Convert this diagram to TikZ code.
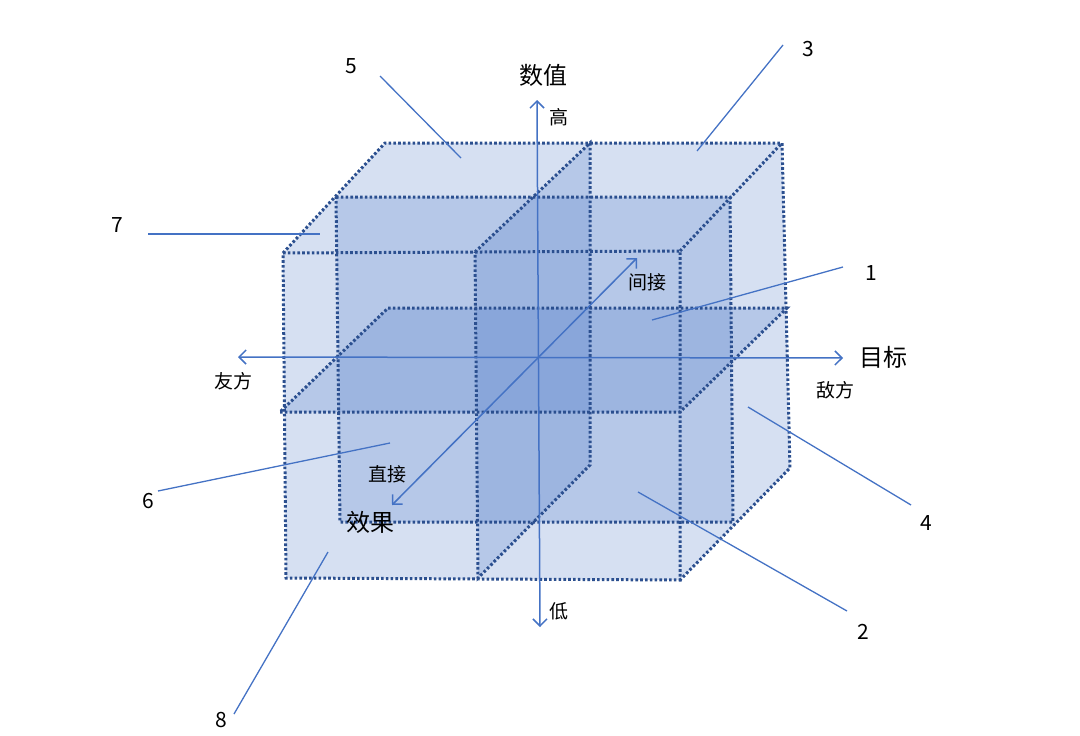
\documentclass[tikz,border=0pt]{standalone}
\usepackage{fontspec}
\setmainfont{Noto Sans CJK SC}
\usetikzlibrary{arrows.meta}
\definecolor{axisblue}{HTML}{4472C4}
\definecolor{edgeblue}{HTML}{2B4F8F}
\definecolor{fillblue}{HTML}{4472C4}
\begin{document}
\begin{tikzpicture}[x=1pt,y=-1pt,
  layerfill/.style={fill=fillblue,fill opacity=0.22,draw=none},
  edgeline/.style={draw=edgeblue,line width=3pt,dash pattern=on 2.6pt off 2.2pt},
  axisline/.style={draw=axisblue,line width=1.5pt,{Straight Barb[length=7pt,width=14pt]}-{Straight Barb[length=7pt,width=14pt]}},
  leader/.style={draw=axisblue,line width=1.3pt},
  bigtext/.style={font=\fontsize{24}{28}\selectfont,inner sep=0pt,text=black},
  smalltext/.style={font=\fontsize{19}{22}\selectfont,inner sep=0pt,text=black},
  numtext/.style={font=\fontsize{21}{24}\selectfont,inner sep=0pt,text=black}]
\useasboundingbox (0,0) rectangle (1080,736);
% outer box corners
\coordinate (FTL) at (283,253);
\coordinate (FTR) at (680,251);
\coordinate (FBR) at (680,580);
\coordinate (FBL) at (286,578);
\coordinate (BTL) at (385,143);
\coordinate (BTR) at (782,143);
\coordinate (BBR) at (790,468);
% middle depth plane
\coordinate (MTL) at (336,197);
\coordinate (MTR) at (730,197);
\coordinate (MBR) at (733,522);
\coordinate (MBL) at (340,522);
% horizontal plane
\coordinate (HFL) at (280,412);
\coordinate (HFR) at (680,412);
\coordinate (HBR) at (787,308);
\coordinate (HBL) at (388,308);
% vertical plane
\coordinate (VFT) at (475,252);
\coordinate (VBT) at (590,143);
\coordinate (VBB) at (590,465);
\coordinate (VFB) at (478,578);
% fills
\fill[layerfill] (FTL) -- (BTL) -- (BTR) -- (BBR) -- (FBR) -- (FBL) -- cycle;
\fill[layerfill] (MTL) -- (MTR) -- (MBR) -- (MBL) -- cycle;
\fill[layerfill] (HFL) -- (HFR) -- (HBR) -- (HBL) -- cycle;
\fill[layerfill] (VFT) -- (VBT) -- (VBB) -- (VFB) -- cycle;
% dotted edges
\draw[edgeline] (FTL) -- (FTR) -- (FBR) -- (FBL) -- cycle;
\draw[edgeline] (FTL) -- (BTL) -- (BTR) -- (BBR) -- (FBR);
\draw[edgeline] (FTR) -- (BTR);
\draw[edgeline] (MTL) -- (MTR) -- (MBR) -- (MBL) -- cycle;
\draw[edgeline] (HFL) -- (HFR) -- (HBR) -- (HBL) -- cycle;
\draw[edgeline] (VFT) -- (VBT) -- (VBB) -- (VFB) -- cycle;
% axes
\coordinate (AT) at (537,100);
\coordinate (AB) at (540,627);
\coordinate (AL) at (238,357);
\coordinate (AR) at (843,358);
\coordinate (AD1) at (637,258);
\coordinate (AD2) at (392,505);
\draw[axisline] (AT) -- (AB);
\draw[axisline] (AL) -- (AR);
\draw[axisline] (AD1) -- (AD2);
% axis labels
\node[bigtext] (shuzhi) at (543,75) {数值};
\node[smalltext] (gao) at (559,117) {高};
\node[smalltext] (di) at (559,611) {低};
\node[bigtext] (mubiao) at (883,357) {目标};
\node[smalltext] (youfang) at (233,381) {友方};
\node[smalltext] (difang) at (835,390) {敌方};
\node[smalltext] (jianjie) at (647,282) {间接};
\node[smalltext] (zhijie) at (387,474) {直接};
\node[bigtext] (xiaoguo) at (370,522) {效果};
% numbered labels
\node[numtext] (n1) at (871,273) {1};
\node[numtext] (n2) at (863,632) {2};
\node[numtext] (n3) at (808,49) {3};
\node[numtext] (n4) at (926,523) {4};
\node[numtext] (n5) at (351,66) {5};
\node[numtext] (n6) at (148,501) {6};
\node[numtext] (n7) at (117,225) {7};
\node[numtext] (n8) at (221,720) {8};
% leader lines
\coordinate (L1a) at (843,267); \coordinate (L1b) at (652,320);
\coordinate (L2a) at (847,611); \coordinate (L2b) at (638,492);
\coordinate (L3a) at (783,45);  \coordinate (L3b) at (697,151);
\coordinate (L4a) at (911,505); \coordinate (L4b) at (748,407);
\coordinate (L5a) at (380,76);  \coordinate (L5b) at (461,158);
\coordinate (L6a) at (158,491); \coordinate (L6b) at (390,443);
\coordinate (L7a) at (148,234); \coordinate (L7b) at (320,234);
\coordinate (L8a) at (234,714); \coordinate (L8b) at (328,552);
\draw[leader] (L1a) -- (L1b);
\draw[leader] (L2a) -- (L2b);
\draw[leader] (L3a) -- (L3b);
\draw[leader] (L4a) -- (L4b);
\draw[leader] (L5a) -- (L5b);
\draw[leader] (L6a) -- (L6b);
\draw[leader] (L7a) -- (L7b);
\draw[leader] (L8a) -- (L8b);
\end{tikzpicture}
\end{document}
